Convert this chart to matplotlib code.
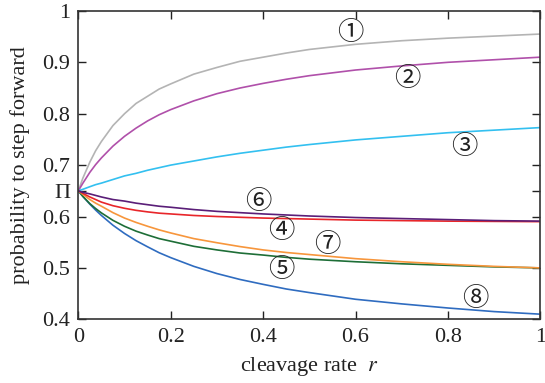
import matplotlib
matplotlib.use("Agg")
import matplotlib.pyplot as plt

plt.rcParams['font.family'] = ['Liberation Serif', 'Noto Sans CJK JP', 'DejaVu Sans']
plt.rcParams['mathtext.fontset'] = 'stix'

r = [0, 0.01, 0.025, 0.0375, 0.05, 0.075, 0.1, 0.125, 0.15, 0.175, 0.2, 0.25,
     0.3, 0.35, 0.4, 0.45, 0.5, 0.6, 0.7, 0.8, 0.9, 1.0]

curve1 = [0.65, 0.675, 0.706, 0.728, 0.746, 0.777, 0.800, 0.820, 0.834, 0.848, 0.858, 0.877,
          0.890, 0.902, 0.910, 0.918, 0.925, 0.935, 0.942, 0.947, 0.951, 0.955]
curve2 = [0.65, 0.665, 0.686, 0.701, 0.714, 0.737, 0.756, 0.772, 0.786, 0.798, 0.808, 0.825,
          0.839, 0.850, 0.859, 0.867, 0.874, 0.885, 0.893, 0.900, 0.905, 0.910]
curve3 = [0.65, 0.653, 0.658, 0.662, 0.665, 0.672, 0.679, 0.684, 0.690, 0.695, 0.700, 0.708,
          0.716, 0.723, 0.729, 0.735, 0.740, 0.749, 0.756, 0.763, 0.768, 0.773]
curve4 = [0.65, 0.645, 0.638, 0.633, 0.628, 0.621, 0.616, 0.612, 0.609, 0.6065, 0.605, 0.602,
          0.600, 0.5985, 0.597, 0.596, 0.595, 0.593, 0.592, 0.591, 0.5905, 0.590]
curve5 = [0.65, 0.639, 0.625, 0.6155, 0.607, 0.5925, 0.581, 0.5715, 0.564, 0.557, 0.552, 0.542,
          0.535, 0.529, 0.525, 0.5205, 0.517, 0.512, 0.508, 0.505, 0.502, 0.500]
curve6 = [0.65, 0.647, 0.644, 0.641, 0.638, 0.633, 0.630, 0.626, 0.623, 0.620, 0.618, 0.6135,
          0.610, 0.6075, 0.605, 0.603, 0.601, 0.598, 0.596, 0.594, 0.592, 0.591]
curve7 = [0.65, 0.643, 0.633, 0.626, 0.620, 0.6075, 0.597, 0.5885, 0.581, 0.574, 0.568, 0.557,
          0.549, 0.5415, 0.535, 0.530, 0.526, 0.518, 0.512, 0.507, 0.503, 0.500]
curve8 = [0.65, 0.639, 0.624, 0.6125, 0.602, 0.583, 0.567, 0.553, 0.541, 0.5295, 0.520, 0.503,
          0.489, 0.4775, 0.468, 0.459, 0.452, 0.439, 0.430, 0.422, 0.415, 0.410]

curves = [curve1, curve2, curve3, curve4, curve5, curve6, curve7, curve8]
colors = ['#b4b4b4', '#b050aa', '#33c0f0', '#e8262a', '#1e6e37', '#5a1e78', '#f7963c', '#2f6cc0']
labels = ['①', '②', '③', '④', '⑤', '⑥', '⑦', '⑧']
label_pos = [(0.589, 0.958), (0.711, 0.869), (0.836, 0.736), (0.439, 0.572),
             (0.439, 0.497), (0.390, 0.629), (0.538, 0.5465), (0.860, 0.441)]

yticks = [0.4, 0.5, 0.6, 0.65, 0.7, 0.8, 0.9, 1.0]
ytick_labels = ['0.4', '0.5', '0.6', 'Π', '0.7', '0.8', '0.9', '1']
xticks = [0, 0.2, 0.4, 0.6, 0.8, 1.0]
xtick_labels = ['0', '0.2', '0.4', '0.6', '0.8', '1']

fig = plt.figure(figsize=(5.45, 3.83), dpi=100)
ax = fig.add_axes([0.1437, 0.1663, 0.8477, 0.8052])

draw_order = [0, 1, 2, 7, 4, 6, 3, 5]
for i in draw_order:
    ax.plot(r, curves[i], color=colors[i], lw=1.2, zorder=2)

for lab, (x, y) in zip(labels, label_pos):
    ax.text(x, y, lab, ha='center', va='center', fontsize=19, color='#222222',
            family=['Noto Sans CJK JP', 'DejaVu Sans'], zorder=3)

ax.set_xlim(0, 1)
ax.set_ylim(0.4, 1.0)
ax.set_xticks(xticks)
ax.set_xticklabels(xtick_labels)
ax.set_yticks(yticks)
ax.set_yticklabels(ytick_labels)
ax.tick_params(direction='in', length=6, width=1, top=True, right=True,
               labelsize=16, colors='#222222', pad=6)
for s in ax.spines.values():
    s.set_linewidth(1.2)
    s.set_color('#333333')

ax.set_xlabel('cleavage rate  $r$', fontsize=16, color='#222222', labelpad=6)
ax.set_ylabel('probability to step forward', fontsize=16, color='#222222', labelpad=9)

fig.savefig('out.png', dpi=100)
